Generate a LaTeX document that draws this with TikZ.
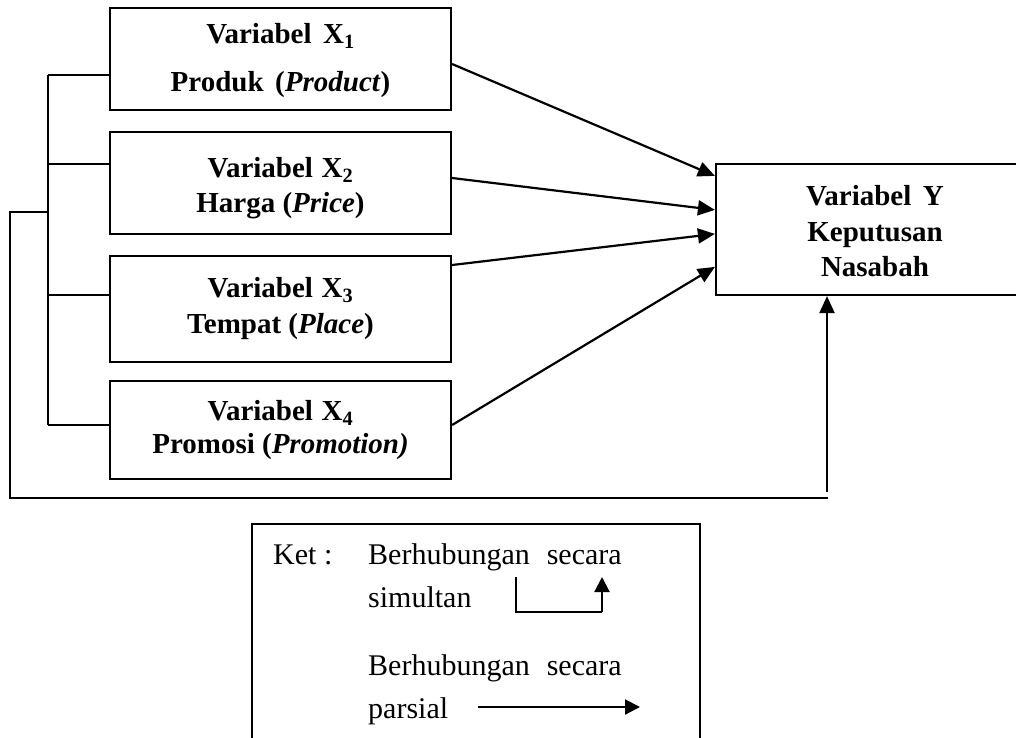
\documentclass[tikz,border=0pt]{standalone}
\usepackage{fontspec}
\setmainfont{Liberation Serif}
\usetikzlibrary{arrows.meta,calc}
\begin{document}
\begin{tikzpicture}[x=1pt,y=-1pt,
  varbox/.style={draw, line width=2.2pt, inner sep=0pt, minimum width=341pt, align=center,
    font=\fontsize{29}{35}\selectfont\bfseries},
  conn/.style={line width=2.2pt},
  arr/.style={line width=2.2pt, -{Triangle[length=17pt,width=15pt]}},
  legarr/.style={line width=2.2pt, -{Triangle[length=15pt,width=15pt]}},
  legtext/.style={anchor=base west, inner sep=0pt, font=\fontsize{30}{36}\selectfont},
]
\useasboundingbox (0,0) rectangle (1016,737);
\clip (0,0) rectangle (1016,737);

% variable boxes
\node[varbox, minimum height=102pt] (X1) at (280.5,59)
  {\rule{0pt}{24pt}Variabel\hspace{0.4em}X\textsubscript{1}\\[13pt]Produk\hspace{0.4em}(\textit{Product})};
\node[varbox, minimum height=102pt] (X2) at (280.5,183)
  {\rule{0pt}{30pt}Variabel\hspace{0.3em}X\textsubscript{2}\\[0pt]Harga (\textit{Price})};
\node[varbox, minimum height=106pt] (X3) at (280.5,309)
  {Variabel\hspace{0.3em}X\textsubscript{3}\\[1pt]Tempat (\textit{Place})};
\node[varbox, minimum height=98pt] (X4) at (280.5,430)
  {Variabel\hspace{0.3em}X\textsubscript{4}\\[-2pt]Promosi (\textit{Promotion)}};
\node[varbox, minimum width=318pt, minimum height=131pt] (Y) at (875,229.5)
  {\rule{0pt}{24pt}Variabel\hspace{0.4em}Y\\[1pt]Keputusan\\[0pt]Nasabah};

% partial arrows
\draw[arr] ([yshift=-5pt]X1.east) -- ([yshift=-13pt]Y.north west);
\draw[arr] ([yshift=5pt]X2.east) -- ([yshift=-47pt]Y.north west);
\draw[arr] ([yshift=44pt]X3.east) -- ([yshift=-71pt]Y.north west);
\draw[arr] ([yshift=5pt]X4.east) -- ([yshift=-104pt]Y.north west);

% simultaneous bracket
\coordinate (s1) at (48,75);
\coordinate (s2) at (48,164);
\coordinate (s3) at (48,295);
\coordinate (s4) at (48,425);
\coordinate (sj) at (48,212);
\coordinate (o1) at (10,212);
\coordinate (o2) at (10,498);
\coordinate (o3) at (828,498);
\coordinate (up) at (827,492);
\draw[conn] (s1) -- (s4);
\draw[conn] (s1) -- (s1 -| X1.west);
\draw[conn] (s2) -- (s2 -| X2.west);
\draw[conn] (s3) -- (s3 -| X3.west);
\draw[conn] (s4) -- (s4 -| X4.west);
\draw[conn] (sj) -- (o1) -- (o2) -- (o3);
\draw[arr] (up) -- (up |- Y.south);

% legend
\node[draw, line width=2.2pt, minimum width=448pt, minimum height=230pt, inner sep=0pt] (leg) at (476,639) {};
\node[legtext] (ket) at (273,564) {Ket :};
\node[legtext] (l1) at (368,564) {Berhubungan\hspace{17pt}secara};
\node[legtext] (l2) at (368,607) {simultan};
\node[legtext] (l3) at (368,675) {Berhubungan\hspace{17pt}secara};
\node[legtext] (l4) at (368,718) {parsial};
\coordinate (la) at (516,577);
\coordinate (lc) at (602,612);
\coordinate (lb) at (602,577);
\draw[conn] (la) |- (lc);
\draw[legarr] (lc) -- (lb);
\coordinate (pa) at (478,707);
\coordinate (pb) at (640,707);
\draw[legarr] (pa) -- (pb);
\end{tikzpicture}
\end{document}
